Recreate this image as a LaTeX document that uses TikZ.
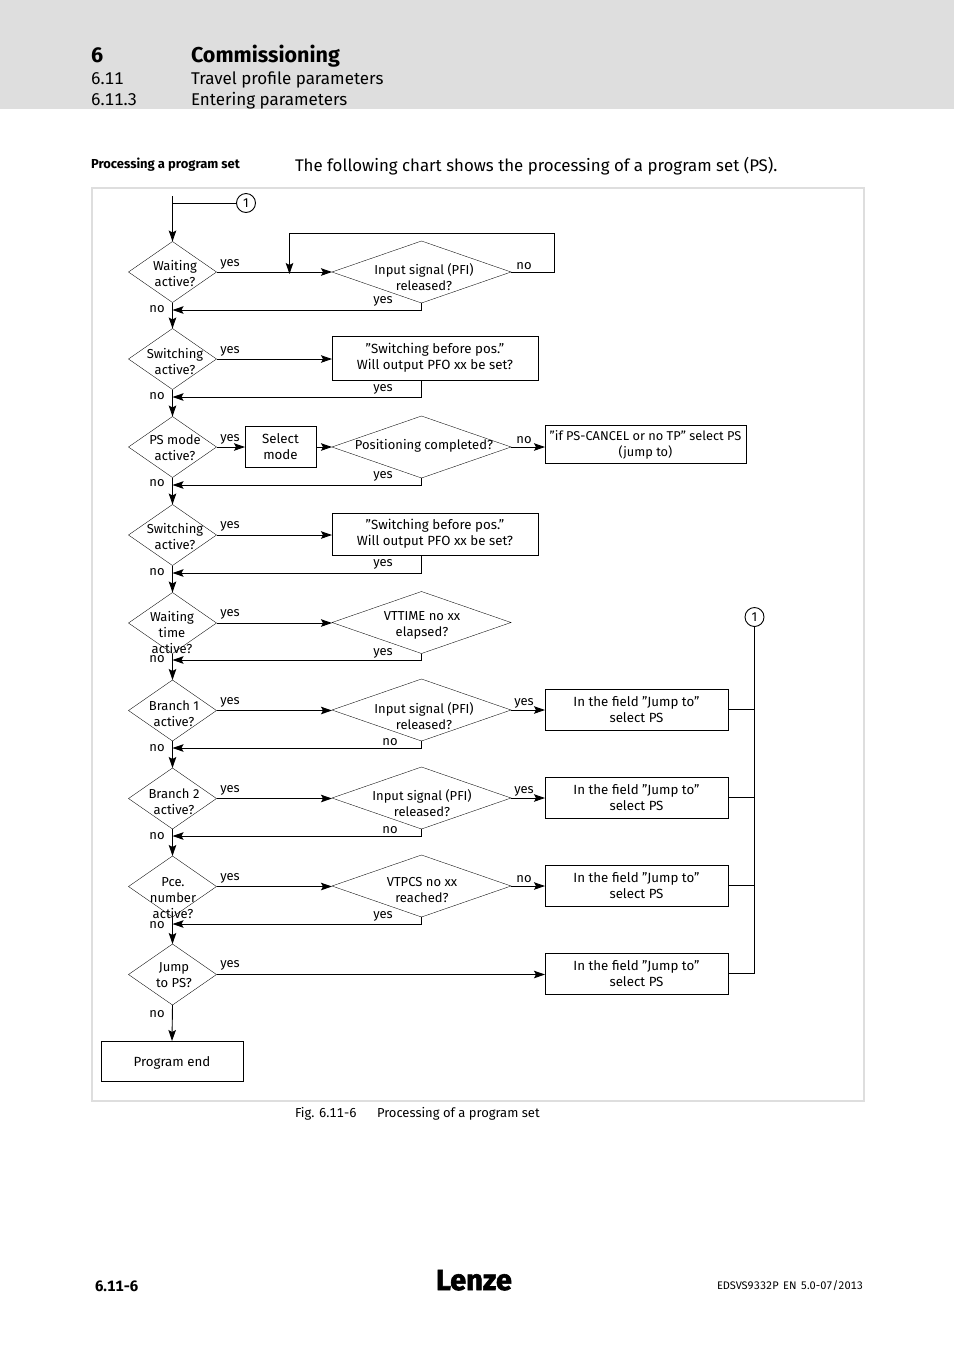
\documentclass[tikz,border=0pt]{standalone}
\usepackage{fontspec}
\setmainfont{Fira Sans}
\newfontfamily\logofont[BoldFeatures={FakeBold=2}]{Fira Sans}
\newfontfamily\tabnum[Numbers=Tabular]{Fira Sans}
\usetikzlibrary{shapes.geometric,arrows.meta}
\definecolor{band}{HTML}{DEDEDE}
\tikzset{
  x=1pt,y=-1pt,
  dia/.style={diamond,draw=black,line width=0.35pt,inner sep=0pt,outer sep=0pt,shape aspect=1.42},
  ldia/.style={dia,minimum width=88pt,minimum height=61pt},
  rdia/.style={dia,minimum width=179pt,minimum height=62pt},
  bx/.style={draw=black,line width=0.8pt,inner sep=0pt,outer sep=0pt,align=center,font=\fontsize{13.3}{16}\selectfont},
  lab/.style={inner sep=0pt,outer sep=0pt,align=center,font=\fontsize{13}{16}\selectfont},
  arr/.style={line width=0.9pt,-{Stealth[length=11pt,width=7.5pt,inset=2pt]}},
  ln/.style={line width=0.9pt},
  num/.style={circle,draw=black,line width=0.9pt,minimum size=19pt,inner sep=0pt,outer sep=0pt,font=\fontsize{13}{13}\selectfont},
  hd/.style={anchor=base west,inner sep=0pt,outer sep=0pt},
}
\begin{document}
\begin{tikzpicture}
\useasboundingbox (0,0) rectangle (954,1350);
\fill[band] (0,0) rectangle (954,109);
\draw[band,line width=1.8pt] (92,188) rectangle (864,1101);
% header
\node[hd,font=\bfseries\fontsize{21.5}{21}\selectfont] (h1) at (91,62) {6};
\node[hd,font=\bfseries\fontsize{21.5}{21}\selectfont] (h2) at (191,62) {Commissioning};
\node[hd,font=\tabnum\fontsize{17}{17}\selectfont] (h3) at (91,84) {6.11};
\node[hd,font=\fontsize{17}{17}\selectfont] (h4) at (191,84) {Travel profile parameters};
\node[hd,font=\tabnum\fontsize{17}{17}\selectfont] (h5) at (91,105) {6.11.3};
\node[hd,font=\fontsize{17}{17}\selectfont] (h6) at (191,105) {Entering parameters};
\node[hd,font=\bfseries\fontsize{13}{13}\selectfont] (s1) at (91,168) {Processing a program set};
\node[hd,font=\fontsize{16.85}{18}\selectfont] (s2) at (295,171) {The following chart shows the processing of a program set (PS).};
% left diamonds
\node[ldia] (d1) at (172.5,272) {};
\node[ldia] (d2) at (172.5,359) {};
\node[ldia] (d3) at (172.5,447) {};
\node[ldia] (d4) at (172.5,535) {};
\node[ldia] (d5) at (172.5,623) {};
\node[ldia] (d6) at (172.5,710.5) {};
\node[ldia] (d7) at (172.5,798.5) {};
\node[ldia] (d8) at (172.5,886.5) {};
\node[ldia] (d9) at (172.5,974.5) {};
% right diamonds
\node[rdia] (r1) at (421.5,272) {};
\node[rdia] (r3) at (421.5,447) {};
\node[rdia] (r5) at (421.5,622.5) {};
\node[rdia] (r6) at (421.5,710) {};
\node[rdia] (r7) at (421.5,798) {};
\node[rdia] (r8) at (421.5,886) {};
% boxes
\node[bx,minimum width=206pt,minimum height=44pt] (b2) at (435,358) {”Switching before pos.”\\Will output PFO xx be set?};
\node[bx,minimum width=71pt,minimum height=41pt] (b3) at (280.5,446.5) {Select\\mode};
\node[bx,minimum width=201pt,minimum height=38pt,font=\fontsize{12.8}{16}\selectfont] (b3b) at (645.5,444.5) {”if PS-CANCEL or no TP” select PS\\(jump to)};
\node[bx,minimum width=206pt,minimum height=42pt] (b4) at (435,534) {”Switching before pos.”\\Will output PFO xx be set?};
\node[bx,minimum width=183pt,minimum height=41pt] (b6) at (636.5,709.5) {In the field ”Jump to”\\select PS};
\node[bx,minimum width=183pt,minimum height=41pt] (b7) at (636.5,797.5) {In the field ”Jump to”\\select PS};
\node[bx,minimum width=183pt,minimum height=41pt] (b8) at (636.5,885.5) {In the field ”Jump to”\\select PS};
\node[bx,minimum width=183pt,minimum height=41pt] (b9) at (636.5,973.5) {In the field ”Jump to”\\select PS};
\node[bx,minimum width=142pt,minimum height=40pt] (end) at (172,1061) {\rule{0pt}{14pt}Program end};
% numbered circles
\node[num] (c1) at (246,203) {1};
\node[num] (c2) at (754.5,617) {1};
% diamond labels
\node[lab] (t1) at (175,274) {Waiting\\active?};
\node[lab] (t2) at (175,361) {Switching\\active?};
\node[lab] (t3) at (175,447.5) {PS mode\\active?};
\node[lab] (t4) at (175,536) {Switching\\active?};
\node[lab] (t5) at (172,632) {Waiting\\time\\active?};
\node[lab] (t6) at (174,714) {Branch 1\\active?};
\node[lab] (t7) at (174,802) {Branch 2\\active?};
\node[lab] (t8) at (173,898.5) {Pce.\\number\\active?};
\node[lab] (t9) at (174,975) {Jump\\to PS?};
\node[lab] (u1) at (424,277) {Input signal (PFI)\\released?};
\node[lab] (u3) at (424,445.5) {Positioning completed?};
\node[lab] (u5) at (422,625.5) {VTTIME no xx\\elapsed?};
\node[lab] (u6) at (424,716) {Input signal (PFI)\\released?};
\node[lab] (u7) at (422,803) {Input signal (PFI)\\released?};
\node[lab] (u8) at (422,890) {VTPCS no xx\\reached?};
% yes/no labels
\foreach \n/\y in {a/264,b/351,c/439,d/526,e/614,f/702,g/790,h/878,i/965}
  \node[lab] (y\n) at (230,\y) {yes};
\foreach \n/\y in {a/309,b/396,c/483,d/572,e/659,f/748,g/836,h/925,i/1014}
  \node[lab] (n\n) at (157,\y) {no};
\foreach \n/\y in {a/301,b/389,c/476,d/564,e/653,h/916}
  \node[lab] (yy\n) at (383,\y) {yes};
\foreach \n/\y in {f/742,g/830}
  \node[lab] (nn\n) at (390,\y) {no};
\foreach \n/\y in {a/266,c/440,h/879}
  \node[lab] (nr\n) at (524,\y) {no};
\foreach \n/\y in {f/703,g/791}
  \node[lab] (yr\n) at (524,\y) {yes};
% helper coordinates
\coordinate (start) at (172.5,196);
\coordinate (m0) at (172.5,203);
\coordinate (m1) at (172.5,310);
\coordinate (m2) at (172.5,397);
\coordinate (m3) at (172.5,485);
\coordinate (m4) at (172.5,573);
\coordinate (m5) at (172.5,660);
\coordinate (m6) at (172.5,748);
\coordinate (m7) at (172.5,836);
\coordinate (m8) at (172.5,924);
\coordinate (lp1) at (554.5,233);
\coordinate (lp2) at (289.5,233);
\coordinate (lp3) at (289.5,274);
\coordinate (bus) at (754.5,974);
% connectors
\draw[arr] (start) -- (d1.north);
\draw[ln] (c1) -- (m0);
\draw[arr] (d1.east) -- (r1.west);
\draw[arr] (r1.east) -- (r1.east -| lp1) -- (lp1) -- (lp2) -- (lp3);
\draw[arr] (r1.south) |- (m1);
\draw[arr] (d1.south) -- (d2.north);
\draw[arr] (d2.east) -- (d2.east -| b2.west);
\draw[arr] (b2.south -| 421.5,0) |- (m2);
\draw[arr] (d2.south) -- (d3.north);
\draw[arr] (d3.east) -- (b3.west |- d3.east);
\draw[arr] (b3.east |- r3.west) -- (r3.west);
\draw[arr] (r3.east) -- (b3b.west |- r3.east);
\draw[arr] (r3.south) |- (m3);
\draw[arr] (d3.south) -- (d4.north);
\draw[arr] (d4.east) -- (d4.east -| b4.west);
\draw[arr] (b4.south -| 421.5,0) |- (m4);
\draw[arr] (d4.south) -- (d5.north);
\draw[arr] (d5.east) -- (r5.west |- d5.east);
\draw[arr] (r5.south) |- (m5);
\draw[arr] (d5.south) -- (d6.north);
\draw[arr] (d6.east) -- (r6.west |- d6.east);
\draw[arr] (r6.east) -- (b6.west |- r6.east);
\draw[arr] (r6.south) |- (m6);
\draw[arr] (d6.south) -- (d7.north);
\draw[arr] (d7.east) -- (r7.west |- d7.east);
\draw[arr] (r7.east) -- (b7.west |- r7.east);
\draw[arr] (r7.south) |- (m7);
\draw[arr] (d7.south) -- (d8.north);
\draw[arr] (d8.east) -- (r8.west |- d8.east);
\draw[arr] (r8.east) -- (b8.west |- r8.east);
\draw[arr] (r8.south) |- (m8);
\draw[arr] (d8.south) -- (d9.north);
\draw[arr] (d9.east) -- (b9.west |- d9.east);
\draw[arr] (d9.south) -- (end.north);
\draw[ln] (c2.south) -- (bus);
\draw[ln] (b6.east) -- (b6.east -| bus);
\draw[ln] (b7.east) -- (b7.east -| bus);
\draw[ln] (b8.east) -- (b8.east -| bus);
\draw[ln] (b9.east) -- (b9.east -| bus);
% caption and footer
\node[hd,font=\tabnum\fontsize{13}{13}\selectfont] (f1) at (295,1117) {Fig. 6.11-6};
\node[hd,font=\fontsize{13}{13}\selectfont] (f2) at (377,1117) {Processing of a program set};
\node[hd,font=\bfseries\fontsize{15}{15}\selectfont] (p1) at (95,1291) {\addfontfeature{Numbers=Tabular}6.11-6};
\node[hd,font=\logofont\bfseries\fontsize{29}{29}\selectfont] (logo) at (436,1290) {Lenze};
\node[hd,font=\tabnum\fontsize{11}{11}\selectfont] (p2) at (717,1289) {EDSVS9332P\hspace{0.4em}EN\hspace{0.4em}5.0-07/2013};
\end{tikzpicture}
\end{document}
